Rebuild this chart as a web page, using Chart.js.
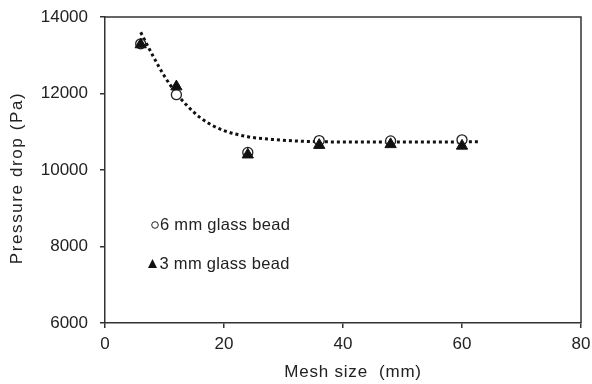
<!DOCTYPE html>
<html>
<head>
<meta charset="utf-8">
<script src="https://cdn.jsdelivr.net/npm/chart.js@4"></script>
<style>
  html, body { margin: 0; padding: 0; background: #fff; }
  #wrap { width: 592px; height: 384px; position: relative; }
</style>
</head>
<body>
<div id="wrap"><canvas id="chart"></canvas></div>
<script>
// mesh size (mm) und gemessener Druckverlust (Pa)
const meshSize = [6, 12, 24, 36, 48, 60];
const bead6mm = [13300, 11970, 10460, 10770, 10760, 10790];
const bead3mm = [13280, 12180, 10400, 10650, 10670, 10630];

// gepunktete Trendlinie
const trendX = [6, 8, 10, 12, 14, 16, 18, 20, 24, 28, 32, 36, 42, 48, 54, 63];
const trendY = [13600, 13000, 12450, 12000, 11650, 11370, 11170, 11030, 10870, 10800, 10760, 10740, 10730, 10730, 10730, 10740];

const xTicks = [0, 20, 40, 60, 80];
const yTicks = [6000, 8000, 10000, 12000, 14000];

const legendItems = ['6 mm glass bead', '3 mm glass bead'];
const xTitle = 'Mesh size  (mm)';
const yTitle = 'Pressure drop (Pa)';

const FONT = "'Liberation Sans', Arial, sans-serif";
const INK = '#222';

const pts = (xs, ys) => xs.map((x, i) => ({ x, y: ys[i] }));

// Rahmen oben/rechts, Achsentitel (gesperrt) + Legende im Plot
const framePlugin = {
  id: 'frame',
  afterDraw(chart){
    const { ctx, chartArea: a } = chart;
    ctx.save();
    ctx.strokeStyle = '#333';
    ctx.lineWidth = 1.5;
    ctx.beginPath();
    ctx.moveTo(a.left, a.top);
    ctx.lineTo(a.right, a.top);
    ctx.lineTo(a.right, a.bottom);
    ctx.stroke();

    // axis titles
    ctx.fillStyle = INK;
    ctx.font = `17px ${FONT}`;
    ctx.textAlign = 'center';
    ctx.textBaseline = 'middle';
    ctx.letterSpacing = '0.8px';
    ctx.fillText(xTitle, 353, 372);
    ctx.save();
    ctx.translate(17, 178);
    ctx.rotate(-Math.PI/2);
    ctx.letterSpacing = '1.6px';
    ctx.fillText(yTitle, 0, 0);
    ctx.restore();

    // legend
    ctx.letterSpacing = '0.3px';
    ctx.textAlign = 'left';
    ctx.font = `16.5px ${FONT}`;
    const ly = [225, 264];
    ctx.beginPath();
    ctx.arc(155, ly[0], 3.3, 0, Math.PI*2);
    ctx.lineWidth = 1;
    ctx.strokeStyle = INK;
    ctx.stroke();
    ctx.fillText(legendItems[0], 160, ly[0]);

    ctx.beginPath();
    ctx.moveTo(152.5, ly[1] - 5);
    ctx.lineTo(157, ly[1] + 4);
    ctx.lineTo(148, ly[1] + 4);
    ctx.closePath();
    ctx.fillStyle = '#111';
    ctx.fill();
    ctx.fillStyle = INK;
    ctx.fillText(legendItems[1], 159.5, ly[1]);
    ctx.restore();
  }
};

new Chart(document.getElementById('chart'), {
  type: 'scatter',
  data: {
    datasets: [
      {
        label: '3 mm glass bead',
        data: pts(meshSize, bead3mm),
        pointStyle: 'triangle',
        pointRadius: 6.5,
        backgroundColor: '#111',
        borderColor: '#111',
        borderWidth: 1,
        order: 0
      },
      {
        label: '6 mm glass bead',
        data: pts(meshSize, bead6mm),
        pointStyle: 'circle',
        pointRadius: 5,
        backgroundColor: '#fff',
        borderColor: '#222',
        borderWidth: 1.3,
        order: 1
      },
      {
        label: 'trend',
        data: pts(trendX, trendY),
        showLine: true,
        pointRadius: 0,
        borderColor: '#111',
        borderWidth: 3,
        borderDash: [3, 3],
        cubicInterpolationMode: 'monotone',
        order: 2
      }
    ]
  },
  options: {
    responsive: true,
    maintainAspectRatio: false,
    animation: false,
    layout: { padding: { left: 0, right: 11, top: 17, bottom: 0 } },
    plugins: { legend: { display: false }, tooltip: { enabled: false } },
    scales: {
      x: {
        type: 'linear',
        min: 0, max: 80,
        afterBuildTicks: (s) => { s.ticks = xTicks.map(v => ({ value: v })); },
        afterFit: (s) => { s.height = 61; s.paddingRight = 0; s.paddingLeft = 0; },
        ticks: { color: INK, font: { family: FONT, size: 17 }, padding: 6, callback: (v) => String(v) },
        grid: { drawOnChartArea: false, tickLength: 5, color: '#333', lineWidth: 1.5 },
        border: { color: '#333', width: 1.5 }
      },
      y: {
        min: 6000, max: 14000,
        afterBuildTicks: (s) => { s.ticks = yTicks.map(v => ({ value: v })); },
        afterFit: (s) => { s.width = 105; s.paddingTop = 0; s.paddingBottom = 0; },
        ticks: { color: INK, font: { family: FONT, size: 17 }, padding: 12, callback: (v) => String(v) },
        grid: { drawOnChartArea: false, tickLength: 5, color: '#333', lineWidth: 1.5 },
        border: { color: '#333', width: 1.5 }
      }
    }
  },
  plugins: [framePlugin]
});
</script>
</body>
</html>
